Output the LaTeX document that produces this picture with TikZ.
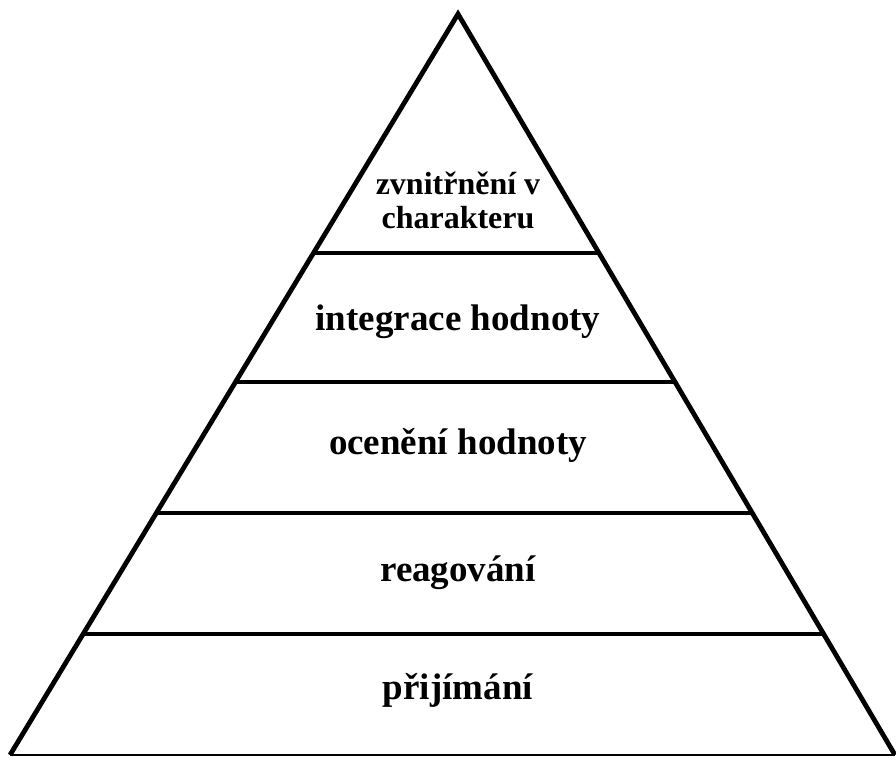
\documentclass[tikz,border=0pt]{standalone}
\usepackage{fontspec}
\setmainfont{Liberation Serif}
\usepackage{tikz}
\usetikzlibrary{calc}

\begin{document}
\begin{tikzpicture}[x=1pt,y=-1pt,
		lvl/.style={font=\bfseries\fontsize{37}{41}\selectfont},
		toplvl/.style={font=\bfseries\fontsize{32}{34}\selectfont,align=center}]
			\useasboundingbox (0,0) rectangle (896,757);
			\coordinate (apex) at (458,14);
			\coordinate (bl) at (10,755);
			\coordinate (br) at (895,755);
			% sides and base
			\draw[line width=4.8pt,line join=miter] (bl)--(apex)--(br);
			\draw[line width=1.5pt] (bl)--(br);
			% level separators
			\foreach \yy in {253,382,513,634}
				\draw[line width=4.8pt] ($(apex)!{(\yy-14)/741}!(bl)$)--($(apex)!{(\yy-14)/741}!(br)$);
			% labels
			\node[toplvl] (l5) at (458,200) {zvnitřnění v\\charakteru};
			\node[lvl] (l4) at (458,322) {integrace hodnoty};
			\node[lvl] (l3) at (458,445) {ocenění hodnoty};
			\node[lvl] (l2) at (458,573) {reagování};
			\node[lvl] (l1) at (458,690) {přijímání};
		\end{tikzpicture}
\end{document}
